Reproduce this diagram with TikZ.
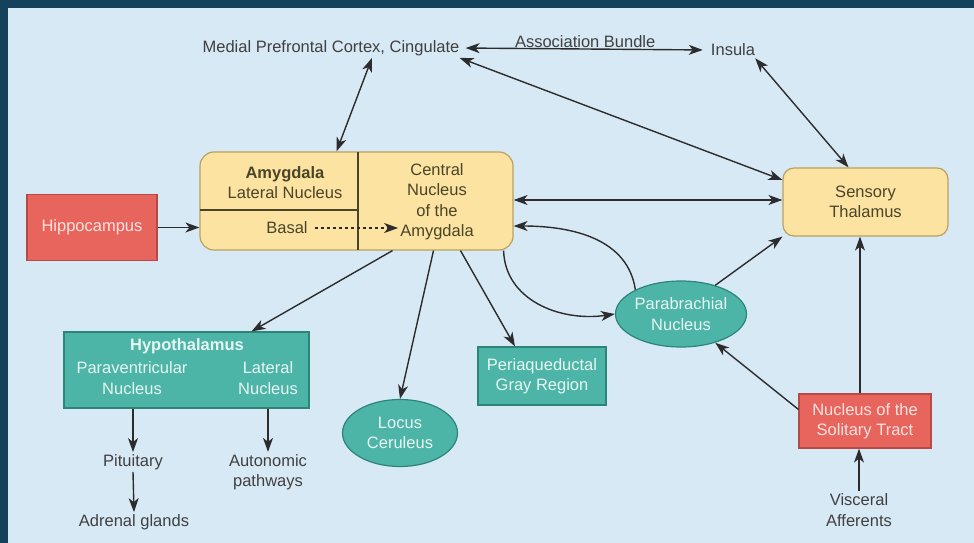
\documentclass[tikz,border=0pt]{standalone}
\usepackage{fontspec}
\setmainfont{Liberation Sans}
\usepackage{tikz}
\usetikzlibrary{shapes,arrows.meta}
\definecolor{fondo}{HTML}{D8E9F6}
\definecolor{marco}{HTML}{15425B}
\definecolor{amarillo}{HTML}{FCE3A1}
\definecolor{amarilloborde}{HTML}{B9A15F}
\definecolor{amarillotexto}{HTML}{4A4528}
\definecolor{rojo}{HTML}{E7655D}
\definecolor{rojoborde}{HTML}{B84A45}
\definecolor{rojotexto}{HTML}{FDE3E0}
\definecolor{verde}{HTML}{4DB5A7}
\definecolor{verdeborde}{HTML}{2D8479}
\definecolor{verdetexto}{HTML}{E8F6F3}
\definecolor{gris}{HTML}{404040}
\definecolor{linea}{HTML}{2C2C2C}
\tikzstyle{areatext} = [text=gris, align=center, inner sep=2pt]
\tikzstyle{amytext} = [text=amarillotexto, align=center, inner sep=2pt]
\tikzstyle{yellowbox} = [draw=amarilloborde, fill=amarillo, line width=1.2pt, rounded corners=14pt]
\tikzstyle{redbox} = [draw=rojoborde, fill=rojo, text=rojotexto, line width=1.2pt, align=center]
\tikzstyle{tealbox} = [draw=verdeborde, fill=verde, text=verdetexto, line width=1.2pt, align=center]
\tikzstyle{tealoval} = [ellipse, draw=verdeborde, fill=verde, text=verdetexto, line width=1.2pt, align=center, inner sep=0pt]
\tikzstyle{conn} = [draw=linea, line width=1.4pt, -{Stealth[length=14pt,width=10pt,inset=4pt]}]
\tikzstyle{bothconn} = [draw=linea, line width=1.4pt, {Stealth[length=14pt,width=10pt,inset=4pt]}-{Stealth[length=14pt,width=10pt,inset=4pt]}]
\tikzstyle{divider} = [draw=amarillotexto, line width=2.4pt]
\begin{document}
\begin{tikzpicture}[x=1pt,y=-1pt,font=\fontsize{16.5}{20.5}\selectfont]
\useasboundingbox (0,0) rectangle (974,543);
\fill[marco] (0,0) rectangle (974,543);
\fill[fondo] (8,8) rectangle (974,543);

\node[areatext] (mpfc) at (331,48) {Medial Prefrontal Cortex, Cingulate};
\node[areatext] (insula) at (733,50) {Insula};
\node[yellowbox, minimum width=313pt, minimum height=98pt] (amyg) at (356.5,201) {};
\draw[divider] (358,152) -- (358,250);
\draw[draw=amarillotexto, line width=1.4pt] (200,210) -- (358,210);
\node[amytext] (lateral) at (285,182.5) {\textbf{Amygdala}\\Lateral Nucleus};
\node[amytext] (basal) at (287,228) {Basal};
\node[amytext] (central) at (437,201.5) {Central\\Nucleus\\of the\\Amygdala};
\node[yellowbox, rounded corners=11pt, minimum width=165pt, minimum height=68pt, text=amarillotexto, align=center] (thal) at (865.5,202) {Sensory\\Thalamus};
\node[redbox, minimum width=130pt, minimum height=66pt] (hippo) at (92,227.5) {Hippocampus};
\node[tealbox, minimum width=245pt, minimum height=76pt] (hypo) at (186.5,370) {};
\node[text=verdetexto, inner sep=2pt] (hypotitle) at (187,346) {\textbf{Hypothalamus}};
\node[text=verdetexto, align=center, inner sep=2pt] (pvn) at (132,378) {Paraventricular\\Nucleus};
\node[text=verdetexto, align=center, inner sep=2pt] (latn) at (268,378) {Lateral\\Nucleus};
\node[tealoval, minimum width=115pt, minimum height=67pt] (locus) at (400,433) {Locus\\Ceruleus};
\node[tealbox, minimum width=128pt, minimum height=58pt] (pag) at (542,376) {Periaqueductal\\Gray Region};
\node[tealoval, minimum width=118pt, minimum height=66pt] (parab) at (681,314) {Parabrachial\\Nucleus};
\node[redbox, minimum width=132pt, minimum height=54pt] (nts) at (865,421) {Nucleus of the\\Solitary Tract};
\node[areatext] (pit) at (133,462) {Pituitary};
\node[areatext] (adrenal) at (134,522) {Adrenal glands};
\node[areatext] (auto) at (268,472) {Autonomic\\pathways};
\node[areatext] (visc) at (859,510) {Visceral\\Afferents};

\draw[conn, line width=1.2pt, dashed, shorten <=5pt] (basal.east) -- (basal.east -| central.west);
\draw[bothconn, shorten <=4pt, shorten >=6pt] (mpfc.east) -- node[areatext, above=-1pt] (assoc) {Association Bundle} (insula.west);
\draw[bothconn] ([xshift=41pt]mpfc.south) -- ([xshift=-20pt]amyg.north);
\draw[bothconn] ([xshift=-2pt]mpfc.south east) -- ([yshift=22pt]thal.west);
\draw[bothconn] ([xshift=-2pt]insula.south east) -- ([xshift=-17pt]thal.north);
\draw[bothconn] ([yshift=1pt]amyg.east) -- ([yshift=2pt]thal.west);
\draw[conn] (hippo.east) -- (hippo.east -| amyg.west);
\draw[conn] ([xshift=36pt]amyg.south) -- ([xshift=65pt]hypo.north);
\draw[conn] ([xshift=77pt]amyg.south) -- (locus.north);
\draw[conn] ([xshift=104pt]amyg.south) -- ([xshift=-27pt]pag.north);
\draw[conn] ([xshift=-10pt]amyg.south east) .. controls (505,300) and (560,322) .. (parab.west);
\draw[conn] (parab.152) .. controls (628,240) and (575,226) .. ([yshift=-25pt]amyg.east);
\draw[conn] (parab.40) -- (thal.south west);
\draw[conn] ([yshift=-16pt]nts.north west) -- (parab.-40);
\draw[conn] ([xshift=-5pt]nts.north) -- ([xshift=-5.5pt]thal.south);
\draw[conn] (visc.north) -- (visc.north |- nts.south);
\draw[conn] (hypo.south -| pit.north) -- (pit.north);
\draw[conn] (hypo.south -| auto.north) -- (auto.north);
\draw[conn] (pit.south) -- (adrenal.north);
\end{tikzpicture}
\end{document}
